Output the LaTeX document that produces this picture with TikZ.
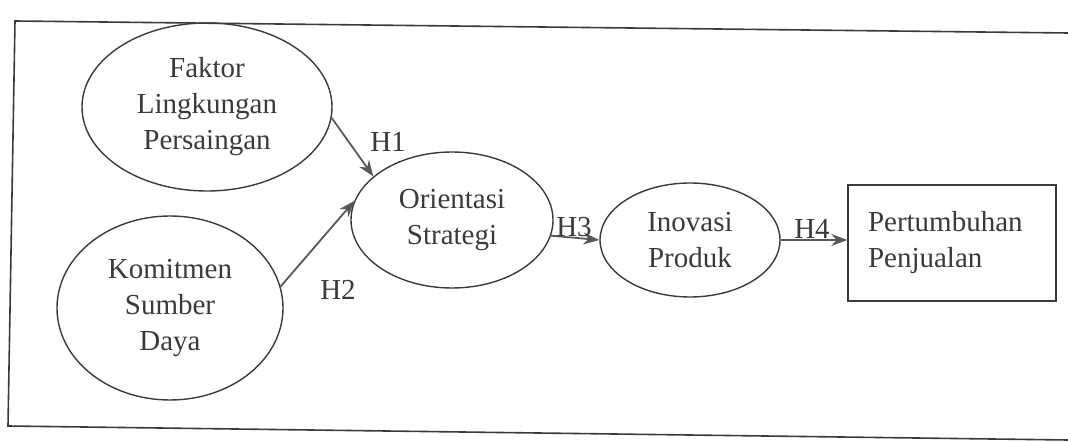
\documentclass[tikz,border=0pt]{standalone}
\usepackage{fontspec}
\setmainfont{Liberation Serif}
\usetikzlibrary{arrows.meta,shapes.geometric}
\definecolor{ink}{HTML}{3A3A3A}
\tikzset{
  var/.style={draw=ink,ellipse,inner sep=0pt,align=center,text=ink,line width=.7pt,
    font=\fontsize{14.5}{18}\selectfont},
  endvar/.style={draw=ink,rectangle,inner ysep=0pt,inner xsep=10pt,text width=84pt,
    align=left,text=ink,line width=.7pt,font=\fontsize{14.5}{18}\selectfont},
  link/.style={draw=ink!85,line width=.9pt,-{Stealth[length=8pt,width=6pt]}},
  hyp/.style={text=ink,font=\fontsize{14.5}{18}\selectfont,inner sep=1pt}
}
\begin{document}
\begin{tikzpicture}[x=.5pt,y=-.5pt]
  \useasboundingbox (0,0) rectangle (1068,442);

  %% scanned frame
  \draw[ink,line width=.8pt] (1068,33) -- (15,21) -- (8,426) -- (1068,440);

  %% latent variables
  \node[var,minimum width=125pt,minimum height=84pt] (faktor) at (207,107) {Faktor\\Lingkungan\\Persaingan};
  \node[var,minimum width=113pt,minimum height=92pt] (komit) at (170,308) {Komitmen\\Sumber\\Daya};
  \node[var,minimum width=101pt,minimum height=68pt] (orient) at (452,220) {Orientasi\\Strategi};
  \node[var,minimum width=90pt,minimum height=57pt] (inov) at (690,240) {Inovasi\\Produk};
  \node[endvar,minimum height=58pt] (tumbuh) at (952,243) {Pertumbuhan\\Penjualan\\[-7pt]};

  %% paths
  \draw[link] (faktor.-5) -- (orient.151);
  \draw[link] (komit.11) -- (orient.169);
  \draw[link] (orient.-9) -- (inov.west);
  \draw[link] (inov.east) -- (inov.east -| tumbuh.west);

  %% hypotheses
  \node[hyp] (h1) at (388,142) {H1};
  \node[hyp] (h2) at (338,290) {H2};
  \node[hyp] (h3) at (574,227) {H3};
  \node[hyp] (h4) at (812,229) {H4};
\end{tikzpicture}
\end{document}
